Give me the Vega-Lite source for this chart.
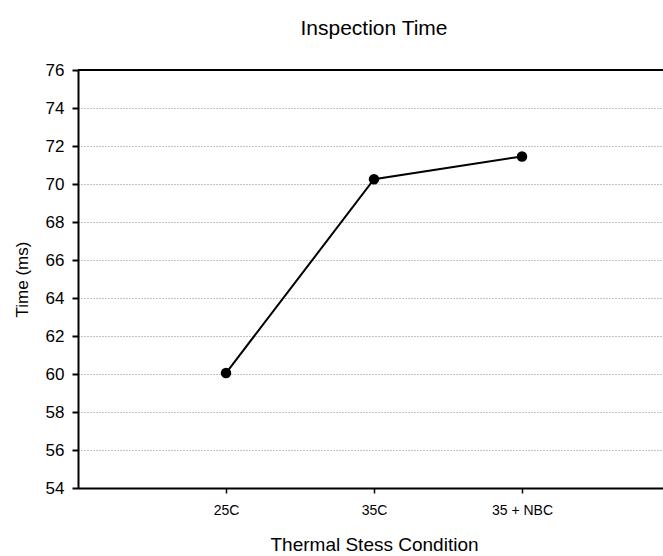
{
  "$schema": "https://vega.github.io/schema/vega-lite/v6.json",
  "autosize": "none",
  "padding": {"left": 78, "top": 70, "right": 0, "bottom": 68},
  "width": 592,
  "height": 418,
  "title": {"text": "Inspection Time", "font": "Liberation Sans", "fontSize": 21, "fontWeight": "normal", "color": "#000", "offset": 22, "anchor": "middle"},
  "config": {
    "view": {"stroke": null},
    "axis": {"labelFont": "Liberation Sans", "titleFont": "Liberation Sans", "labelColor": "#000", "titleColor": "#000", "titleFontWeight": "normal", "domainColor": "#000", "tickColor": "#000", "labelOverlap": false}
  },
  "data": {"values": [
    {"condition": "25C", "time": 60.05},
    {"condition": "35C", "time": 70.25},
    {"condition": "35 + NBC", "time": 71.45}
  ]},
  "layer": [
    {
      "mark": {"type": "line", "color": "#000", "strokeWidth": 2, "point": {"filled": true, "color": "#000", "size": 110, "opacity": 1}},
      "encoding": {
        "x": {"field": "condition", "type": "ordinal", "sort": null,
          "scale": {"type": "point", "padding": 1},
          "axis": {"title": "Thermal Stess Condition", "titleFontSize": 19, "titlePadding": 18, "labelFontSize": 14, "labelAngle": 0, "labelPadding": 10, "tickSize": 5, "domainWidth": 2, "tickWidth": 1.5}},
        "y": {"field": "time", "type": "quantitative",
          "scale": {"domain": [54, 76], "nice": false, "zero": false},
          "axis": {"title": "Time (ms)", "titleFontSize": 17, "titlePadding": 14, "labelFontSize": 17, "labelPadding": 8, "tickSize": 6, "tickWidth": 2, "domainWidth": 2, "values": [54,56,58,60,62,64,66,68,70,72,74,76],
            "grid": true, "gridColor": "#888", "gridDash": [1, 2], "gridWidth": 1}}
      }
    },
    {
      "mark": {"type": "rule", "color": "#000", "strokeWidth": 2},
      "encoding": {"y": {"datum": 76, "type": "quantitative", "scale": {"domain": [54, 76], "nice": false, "zero": false},
        "axis": {"title": "Time (ms)", "titleFontSize": 17, "titlePadding": 14, "labelFontSize": 17, "labelPadding": 8, "tickSize": 6, "tickWidth": 2, "domainWidth": 2, "values": [54,56,58,60,62,64,66,68,70,72,74,76],
            "grid": true, "gridColor": "#888", "gridDash": [1, 2], "gridWidth": 1}}}
    }
  ]
}
